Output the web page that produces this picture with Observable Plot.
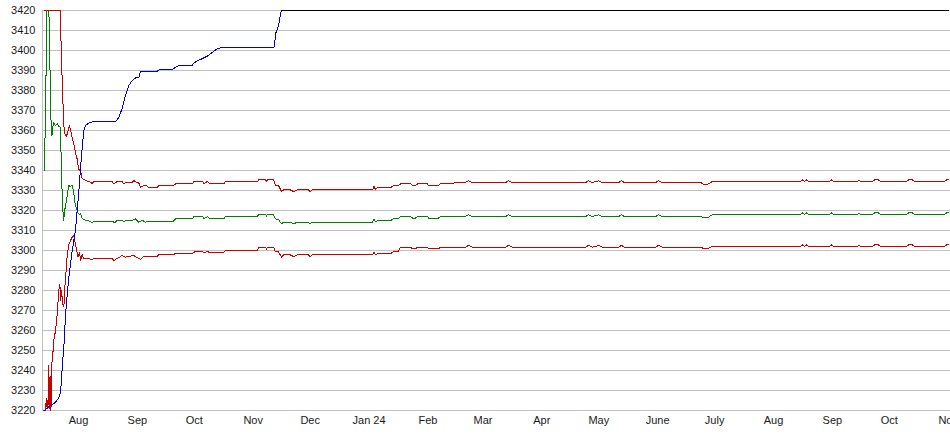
<!DOCTYPE html>
<html><head><meta charset="utf-8">
<script src="https://cdn.jsdelivr.net/npm/d3@7"></script>
<script src="https://cdn.jsdelivr.net/npm/@observablehq/plot@0.6"></script>
<style>
html,body{margin:0;padding:0;background:#fff}
#chart svg{display:block}
</style>
</head><body><div id="chart"></div>
<script>
// day offsets are counted from this date
const dayZero = "2023-07-13";

const yTicks = [3220,3230,3240,3250,3260,3270,3280,3290,3300,3310,3320,3330,3340,3350,3360,3370,3380,3390,3400,3410,3420];
const monthTicks = ["2023-08-01","2023-09-01","2023-10-01","2023-11-01","2023-12-01","2024-01-01","2024-02-01","2024-03-01","2024-04-01","2024-05-01","2024-06-01","2024-07-01","2024-08-01","2024-09-01","2024-10-01","2024-11-01"];
const monthLabels = ["Aug","Sep","Oct","Nov","Dec","Jan 24","Feb","Mar","Apr","May","June","July","Aug","Sep","Oct","Nov"];

// [day offset, value]
const blueLine = [[0.6,3220],[1.1,3220],[3.2,3221.7],[5.8,3223.3],[7.6,3225],[8.8,3226.7],[9.4,3229],[9.9,3233.3],[10.2,3238.3],[10.7,3245],[11.3,3252],[12.2,3268],[13.1,3278.3],[13.9,3286.7],[14.8,3293.3],[15.7,3300],[17.4,3310],[18.3,3320],[19.2,3330],[20.1,3341.7],[20.9,3351],[21.8,3360],[22.7,3362.5],[24.4,3363.7],[26.4,3364.3],[38.5,3364.3],[40.2,3366.5],[42.0,3371],[43.7,3377.5],[45.5,3382.5],[47.3,3385],[49.0,3386.3],[50.8,3386.7],[51.7,3389.5],[60.4,3389.5],[61.3,3390.3],[68.3,3390.3],[69.2,3391],[71.8,3392.5],[78.9,3392.5],[79.7,3393.7],[81.5,3394.7],[83.2,3395.5],[85.0,3396.3],[86.8,3397.2],[88.5,3398.3],[90.3,3399.7],[92.0,3400.8],[93.8,3401.3],[121.9,3401.3],[122.4,3404.2],[122.7,3408.3],[123.6,3410.3],[124.5,3413.3],[125.4,3418.3],[125.9,3420]];

const topLine = [[125.9,3420],[477.1,3420]];

const upperRed = [[1.1,3420],[9.3,3420],[9.6,3412.5],[10.0,3396],[10.6,3380],[11.1,3366],[11.6,3358.5],[12.7,3357],[13.2,3359],[14.3,3362.5],[15.3,3358],[15.8,3356],[16.9,3352],[17.4,3349],[18.5,3345],[19.0,3340.5],[20.1,3340],[20.9,3336],[22.7,3335],[24.3,3334.5],[25.3,3334.2],[26.2,3333.3],[26.9,3334.5],[36.7,3334.5],[37.6,3333.3],[39.4,3334.5],[42.0,3334.5],[42.9,3333.3],[43.7,3334],[47.4,3334],[48.1,3335],[49.5,3334],[50.6,3334],[51.7,3331.7],[53.4,3332.5],[54.8,3332.5],[55.9,3331.3],[60.6,3331.3],[61.1,3332.5],[69.0,3332.5],[70.1,3333.3],[79.1,3333.3],[79.6,3334.5],[84.3,3334.5],[85.1,3333.5],[86.9,3334.5],[88.0,3333.3],[95.4,3333.3],[96.4,3334.5],[113.3,3334.5],[113.8,3335.3],[117.5,3335.3],[118.0,3334.5],[118.5,3335.3],[121.7,3335.3],[122.7,3332.5],[124.3,3332.5],[125.9,3329.5],[127.0,3330.3],[130.6,3330.3],[132.2,3329.5],[134.3,3330.3],[140.1,3330.3],[140.9,3329.5],[142.2,3330.3],[173.8,3330.3],[174.6,3332],[175.4,3330.5],[176.4,3331.3],[183.3,3331.3],[184.9,3332.5],[187.5,3332.5],[188.6,3333.3],[193.9,3333.3],[194.9,3332.5],[196.5,3332.5],[197.5,3333.3],[202.8,3333.3],[203.3,3332.5],[208.6,3332.5],[209.6,3333.3],[214.9,3333.3],[217.5,3334],[222.8,3334],[224.3,3334.8],[226.4,3334],[243.9,3334],[245.4,3334.8],[247.6,3334],[286.0,3334],[287.6,3334.8],[289.7,3334],[292.9,3334.8],[295.0,3334],[303.4,3334],[305.0,3334.8],[306.5,3334],[322.9,3334],[324.4,3334.8],[326.5,3334],[346.6,3334],[348.1,3333.2],[350.3,3333.2],[352.9,3334.5],[399.2,3334.5],[400.3,3335.3],[401.3,3334.5],[402.4,3335.3],[403.4,3334.5],[414.5,3334.5],[415.5,3335.3],[416.6,3334.5],[429.2,3334.5],[430.0,3335.3],[430.8,3334.5],[437.1,3334.5],[438.2,3335.3],[440.3,3335.3],[441.3,3334.5],[455.0,3334.5],[456.1,3335.3],[458.2,3335.3],[459.2,3334.5],[475.0,3334.5],[476.1,3335.3],[477.1,3335.3]];

const greenLine = [[1.0,3340],[1.5,3362],[2.0,3395],[2.4,3420],[3.4,3420],[3.7,3406],[4.0,3390],[4.3,3376],[4.6,3362],[5.0,3357.5],[5.8,3364],[6.9,3362.5],[7.9,3363.5],[8.5,3362],[9.5,3361.7],[10.0,3340],[10.6,3322],[11.2,3315],[11.7,3320],[12.7,3325],[13.8,3332.5],[14.8,3332],[15.6,3332.5],[16.4,3330],[16.9,3325],[17.9,3321],[18.8,3318.5],[19.5,3318],[20.1,3318.7],[20.9,3316],[21.8,3315.5],[22.7,3315],[24.3,3315],[26.2,3313.8],[26.9,3314.7],[36.7,3314.7],[38.0,3313.8],[39.4,3315],[42.0,3315],[42.9,3314.2],[43.7,3315],[47.4,3315],[49.0,3315.8],[50.6,3314.2],[52.7,3315],[54.3,3314.2],[55.9,3314.7],[69.0,3314.7],[70.1,3315.8],[79.1,3315.8],[79.6,3317],[84.3,3317],[85.1,3315.8],[86.9,3317],[88.0,3315.8],[95.4,3315.8],[96.4,3317],[113.3,3317],[113.8,3318],[117.5,3318],[118.0,3317.2],[118.5,3318],[121.7,3318],[122.7,3315.8],[124.3,3315.5],[125.9,3313.3],[127.0,3314.2],[130.6,3314.2],[132.2,3313.3],[134.3,3314.2],[140.1,3314.2],[140.9,3313.3],[142.2,3314.2],[173.8,3314.2],[174.6,3315.5],[175.4,3314.3],[176.4,3315],[183.3,3315],[184.9,3315.8],[187.5,3315.8],[188.6,3317],[193.9,3317],[194.9,3316.2],[196.5,3316.2],[197.5,3317],[202.8,3317],[203.3,3316.2],[208.6,3316.2],[209.6,3317],[214.9,3317],[222.8,3317],[224.3,3317.8],[226.4,3317],[243.9,3317],[245.4,3317.8],[247.6,3317],[286.0,3317],[287.6,3317.8],[289.7,3317],[292.9,3317.8],[295.0,3317],[303.4,3317],[305.0,3317.8],[306.5,3317],[322.9,3317],[324.4,3317.8],[326.5,3317],[346.6,3317],[348.1,3316.4],[350.3,3316.4],[352.9,3318],[399.2,3318],[400.3,3318.8],[401.3,3318],[402.4,3318.8],[403.4,3318],[414.5,3318],[415.5,3318.8],[416.6,3318],[429.2,3318],[430.0,3318.8],[430.8,3318],[437.1,3318],[438.2,3318.8],[440.3,3318.8],[441.3,3318],[455.0,3318],[456.1,3318.8],[458.2,3318.8],[459.2,3318],[475.0,3318],[476.1,3318.8],[477.1,3318.8]];

const lowerRed = [[1.6,3220],[2.1,3226],[2.4,3222],[2.9,3222],[3.2,3242.5],[3.5,3221],[3.7,3236.5],[4.0,3222],[4.3,3237],[4.5,3220],[4.9,3243],[5.5,3248.5],[6.0,3255],[6.9,3260],[7.8,3268.3],[8.6,3280],[9.2,3283.3],[9.5,3275],[10.0,3280],[10.7,3273.3],[11.3,3271.7],[11.8,3281.7],[12.5,3290],[13.0,3296.7],[13.9,3303],[14.8,3305],[15.7,3306.7],[16.5,3307.5],[17.4,3303.3],[18.3,3299],[18.8,3296.7],[19.5,3299],[20.1,3295],[20.9,3298],[21.8,3296],[24.3,3296],[26.2,3295.3],[26.9,3296],[36.7,3296],[37.6,3295],[39.4,3296],[42.0,3297.5],[43.7,3296.7],[48.1,3297.5],[49.5,3296.7],[51.7,3295.5],[53.4,3297],[60.6,3297],[61.1,3297.8],[69.0,3297.8],[70.1,3298.7],[79.1,3298.7],[80.6,3299.5],[84.3,3299.5],[85.1,3298.7],[86.9,3299.5],[88.0,3299],[95.4,3299],[96.4,3300],[113.3,3300],[113.8,3301.7],[117.5,3301.7],[118.0,3300.5],[118.5,3301.7],[121.7,3301.7],[122.7,3299.3],[124.3,3299.3],[125.9,3296.7],[127.0,3297.8],[130.6,3297.8],[132.2,3297],[134.3,3297.8],[140.1,3297.8],[140.9,3297],[142.2,3297.8],[173.8,3297.8],[174.6,3299.2],[175.4,3297.9],[176.4,3298.3],[183.3,3298.3],[184.9,3299.5],[187.5,3299.5],[188.6,3301.7],[193.9,3301.7],[194.9,3300.8],[196.5,3300.8],[197.5,3301.7],[202.8,3301.7],[203.3,3300.8],[208.6,3300.8],[209.6,3301.7],[214.9,3301.7],[222.8,3301.7],[224.3,3302.5],[226.4,3301.7],[243.9,3301.7],[245.4,3302.5],[247.6,3301.7],[286.0,3301.7],[287.6,3302.5],[289.7,3301.7],[292.9,3302.5],[295.0,3301.7],[303.4,3301.7],[305.0,3302.5],[306.5,3301.7],[322.9,3301.7],[324.4,3302.5],[326.5,3301.7],[346.6,3301.7],[348.1,3301],[350.3,3301],[352.9,3302],[399.2,3302],[400.3,3302.8],[401.3,3302],[402.4,3302.8],[403.4,3302],[414.5,3302],[415.5,3302.8],[416.6,3302],[429.2,3302],[430.0,3302.8],[430.8,3302],[437.1,3302],[438.2,3302.8],[440.3,3302.8],[441.3,3302],[455.0,3302],[456.1,3302.8],[458.2,3302.8],[459.2,3302],[475.0,3302],[476.1,3302.8],[477.1,3302.8]];

const base = new Date(dayZero).getTime();
const rows = (pairs) => pairs.map(([d, v]) => ({date: new Date(base + d * 86400000), value: v}));
const tickDates = monthTicks.map(s => new Date(s));
const labelOf = new Map(tickDates.map((d, i) => [+d, monthLabels[i]]));

const lineOpts = {x: "date", y: "value", strokeWidth: 1, shapeRendering: "crispEdges"};

const chart = Plot.plot({
  width: 950,
  height: 435,
  marginLeft: 42,
  marginRight: 0,
  marginTop: 10,
  marginBottom: 25,
  style: {fontFamily: "'Liberation Sans', Arial, sans-serif", fontSize: "11px", color: "#1a1a1a", background: "#fff"},
  x: {type: "utc", domain: [new Date(Date.UTC(2023, 6, 13, 1)), new Date(Date.UTC(2024, 10, 2, 5))], label: null},
  y: {domain: [3220, 3420], label: null},
  marks: [
    Plot.gridY(yTicks, {stroke: "#c0c0c0", strokeOpacity: 1}),
    Plot.frame({anchor: "left", stroke: "#c0c0c0"}),
    Plot.axisY(yTicks, {tickSize: 0, tickPadding: 7, label: null, fontSize: 11, tickFormat: d => String(d)}),
    Plot.axisX(tickDates, {tickSize: 0, tickPadding: 6, label: null, fontSize: 11, tickFormat: d => labelOf.get(+d)}),
    Plot.line(rows(greenLine), {...lineOpts, stroke: "#008000"}),
    Plot.line(rows(lowerRed), {...lineOpts, stroke: "#c80000"}),
    Plot.line(rows(upperRed), {...lineOpts, stroke: "#c80000"}),
    Plot.line(rows(blueLine), {...lineOpts, stroke: "#0000c8"}),
    Plot.line(rows(topLine), {...lineOpts, stroke: "#000000"})
  ]
});
document.getElementById("chart").append(chart);
</script>
</body></html>
